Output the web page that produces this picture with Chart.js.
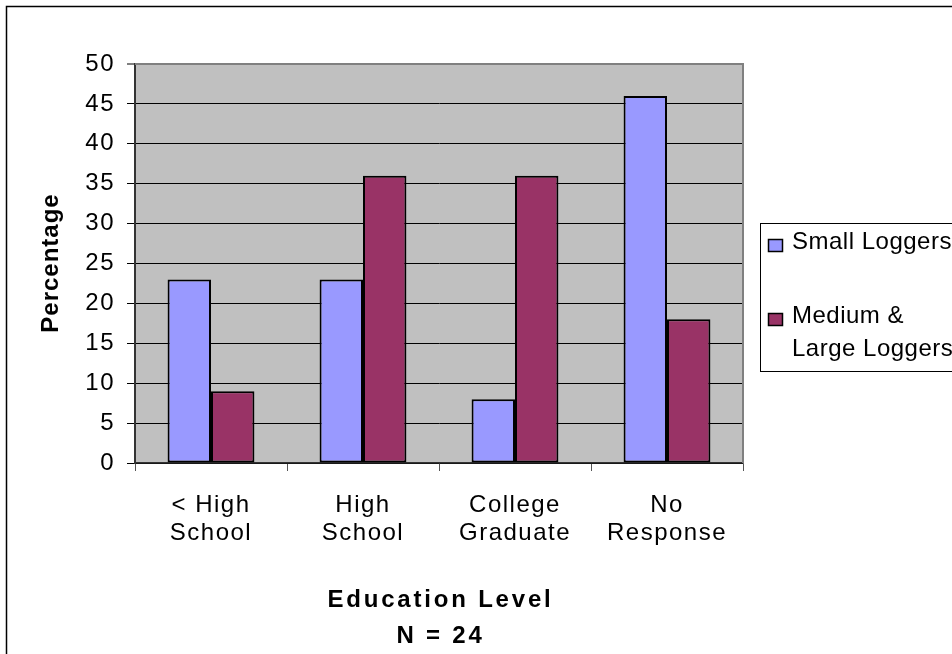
<!DOCTYPE html>
<html>
<head>
<meta charset="utf-8">
<script src="https://cdn.jsdelivr.net/npm/chart.js@4.4.1/dist/chart.umd.min.js"></script>
<style>
  html, body { margin: 0; padding: 0; background: #ffffff; }
  #wrap { width: 952px; height: 654px; position: relative; }
</style>
</head>
<body>
<div id="wrap"><canvas id="c" width="952" height="654"></canvas></div>
<script>
// Education level of loggers, by operation size (percent of respondents)
const categories = [['< High', 'School'], ['High', 'School'], ['College', 'Graduate'], ['No', 'Response']];
const seriesNames = ['Small Loggers', 'Medium & Large Loggers'];
const smallLoggers = [23, 23, 8, 46];
const mediumLargeLoggers = [9, 36, 36, 18];
const yMin = 0;
const yMax = 50;
const yStep = 5;
const yTitle = 'Percentage';
const xTitleLines = ['Education Level', 'N = 24'];

const FONT = '"Liberation Sans", Arial, Helvetica, sans-serif';
const BLUE = '#9999FF';
const MAROON = '#993366';
const PLOT_BG = '#C0C0C0';

Chart.defaults.font.family = FONT;
Chart.defaults.font.size = 24;
Chart.defaults.color = '#000000';

// Plot background, frame, titles and the boxed legend
const frame = {
  id: 'frame',
  beforeDraw(chart) {
    const { ctx, chartArea: a } = chart;
    ctx.save();
    ctx.fillStyle = '#ffffff';
    ctx.fillRect(0, 0, chart.width, chart.height);
    ctx.fillStyle = PLOT_BG;
    ctx.fillRect(a.left, a.top, a.right - a.left, a.bottom - a.top);
    // outer chart border
    ctx.strokeStyle = '#000000';
    ctx.lineWidth = 1.5;
    ctx.strokeRect(6.5, 6.5, 2000, 2000);
    ctx.restore();
    ctx.letterSpacing = '1.5px';
  },
  beforeDatasetsDraw(chart) {
    const { ctx, chartArea: a } = chart;
    ctx.save();
    ctx.strokeStyle = '#808080';
    ctx.lineWidth = 2;
    ctx.beginPath();
    ctx.moveTo(a.left, a.top);
    ctx.lineTo(a.right, a.top);
    ctx.lineTo(a.right, a.bottom);
    ctx.stroke();
    ctx.restore();
  },
  afterDraw(chart) {
    const { ctx, chartArea: a } = chart;
    ctx.save();
    ctx.fillStyle = '#000000';
    ctx.font = 'bold 24px ' + FONT;

    // y-axis title
    ctx.save();
    ctx.letterSpacing = '1px';
    ctx.translate(58, (a.top + a.bottom) / 2);
    ctx.rotate(-Math.PI / 2);
    ctx.textAlign = 'center';
    ctx.textBaseline = 'alphabetic';
    ctx.fillText(yTitle, 0.5, 0);
    ctx.restore();

    // x-axis title
    ctx.letterSpacing = '2.8px';
    ctx.textAlign = 'center';
    ctx.textBaseline = 'alphabetic';
    const cx = (a.left + a.right) / 2 + 1.5;
    ctx.fillText(xTitleLines[0], cx, 607);
    ctx.fillText(xTitleLines[1], cx, 643);

    // legend box
    ctx.letterSpacing = '0.5px';
    ctx.font = '24px ' + FONT;
    ctx.strokeStyle = '#000000';
    ctx.lineWidth = 1;
    ctx.strokeRect(760.5, 223.5, 400, 148);
    const maxW = 170;
    const itemTops = [249, 323];
    const lineGap = 33;
    chart.data.datasets.forEach((ds, i) => {
      // wrap the series name to the legend width
      const words = ds.label.split(' ');
      const lines = [];
      let cur = '';
      words.forEach(w => {
        const t = cur ? cur + ' ' + w : w;
        if (cur && ctx.measureText(t).width > maxW) { lines.push(cur); cur = w; }
        else cur = t;
      });
      if (cur) lines.push(cur);
      const base = itemTops[i];
      ctx.fillStyle = ds.backgroundColor;
      ctx.fillRect(768.5, base - 9.5, 14, 12);
      ctx.lineWidth = 1.5;
      ctx.strokeRect(768.5, base - 9.5, 14, 12);
      ctx.fillStyle = '#000000';
      ctx.textAlign = 'left';
      lines.forEach((ln, k) => ctx.fillText(ln, 792, base + k * lineGap));
    });
    ctx.restore();
  }
};

new Chart(document.getElementById('c'), {
  type: 'bar',
  data: {
    labels: categories,
    datasets: [
      {
        label: seriesNames[0],
        data: smallLoggers,
        backgroundColor: BLUE,
        borderColor: '#000000',
        borderWidth: 2,
        borderSkipped: false,
        barPercentage: 1.0,
        categoryPercentage: 2 / 3.5
      },
      {
        label: seriesNames[1],
        data: mediumLargeLoggers,
        backgroundColor: MAROON,
        borderColor: '#000000',
        borderWidth: 2,
        borderSkipped: false,
        barPercentage: 1.0,
        categoryPercentage: 2 / 3.5
      }
    ]
  },
  options: {
    responsive: false,
    animation: false,
    devicePixelRatio: 1,
    layout: { padding: { left: 0, top: 64, right: 209, bottom: 0 } },
    plugins: {
      legend: { display: false },
      title: { display: false },
      tooltip: { enabled: false }
    },
    scales: {
      x: {
        offset: true,
        afterFit(scale) { scale.height = 191; },
        grid: {
          offset: true,
          drawOnChartArea: false,
          drawTicks: true,
          tickLength: 8,
          color: '#555555',
          lineWidth: 1
        },
        border: { display: true, color: '#333333', width: 1.5 },
        ticks: {
          autoSkip: false,
          maxRotation: 0,
          minRotation: 0,
          padding: 20,
          font: { size: 24, lineHeight: 28 / 24 },
          color: '#000000'
        }
      },
      y: {
        min: yMin,
        max: yMax,
        afterFit(scale) { scale.width = 135; },
        grid: {
          drawOnChartArea: true,
          drawTicks: true,
          tickLength: 8,
          color: (c) => (c.tick && c.tick.value === yMax ? '#808080' : '#000000'),
          lineWidth: (c) => (c.tick && c.tick.value === yMax ? 2 : 1)
        },
        border: { display: true, color: '#333333', width: 2 },
        ticks: {
          stepSize: yStep,
          padding: 12,
          font: { size: 24 },
          color: '#000000'
        }
      }
    }
  },
  plugins: [frame]
});
</script>
</body>
</html>
